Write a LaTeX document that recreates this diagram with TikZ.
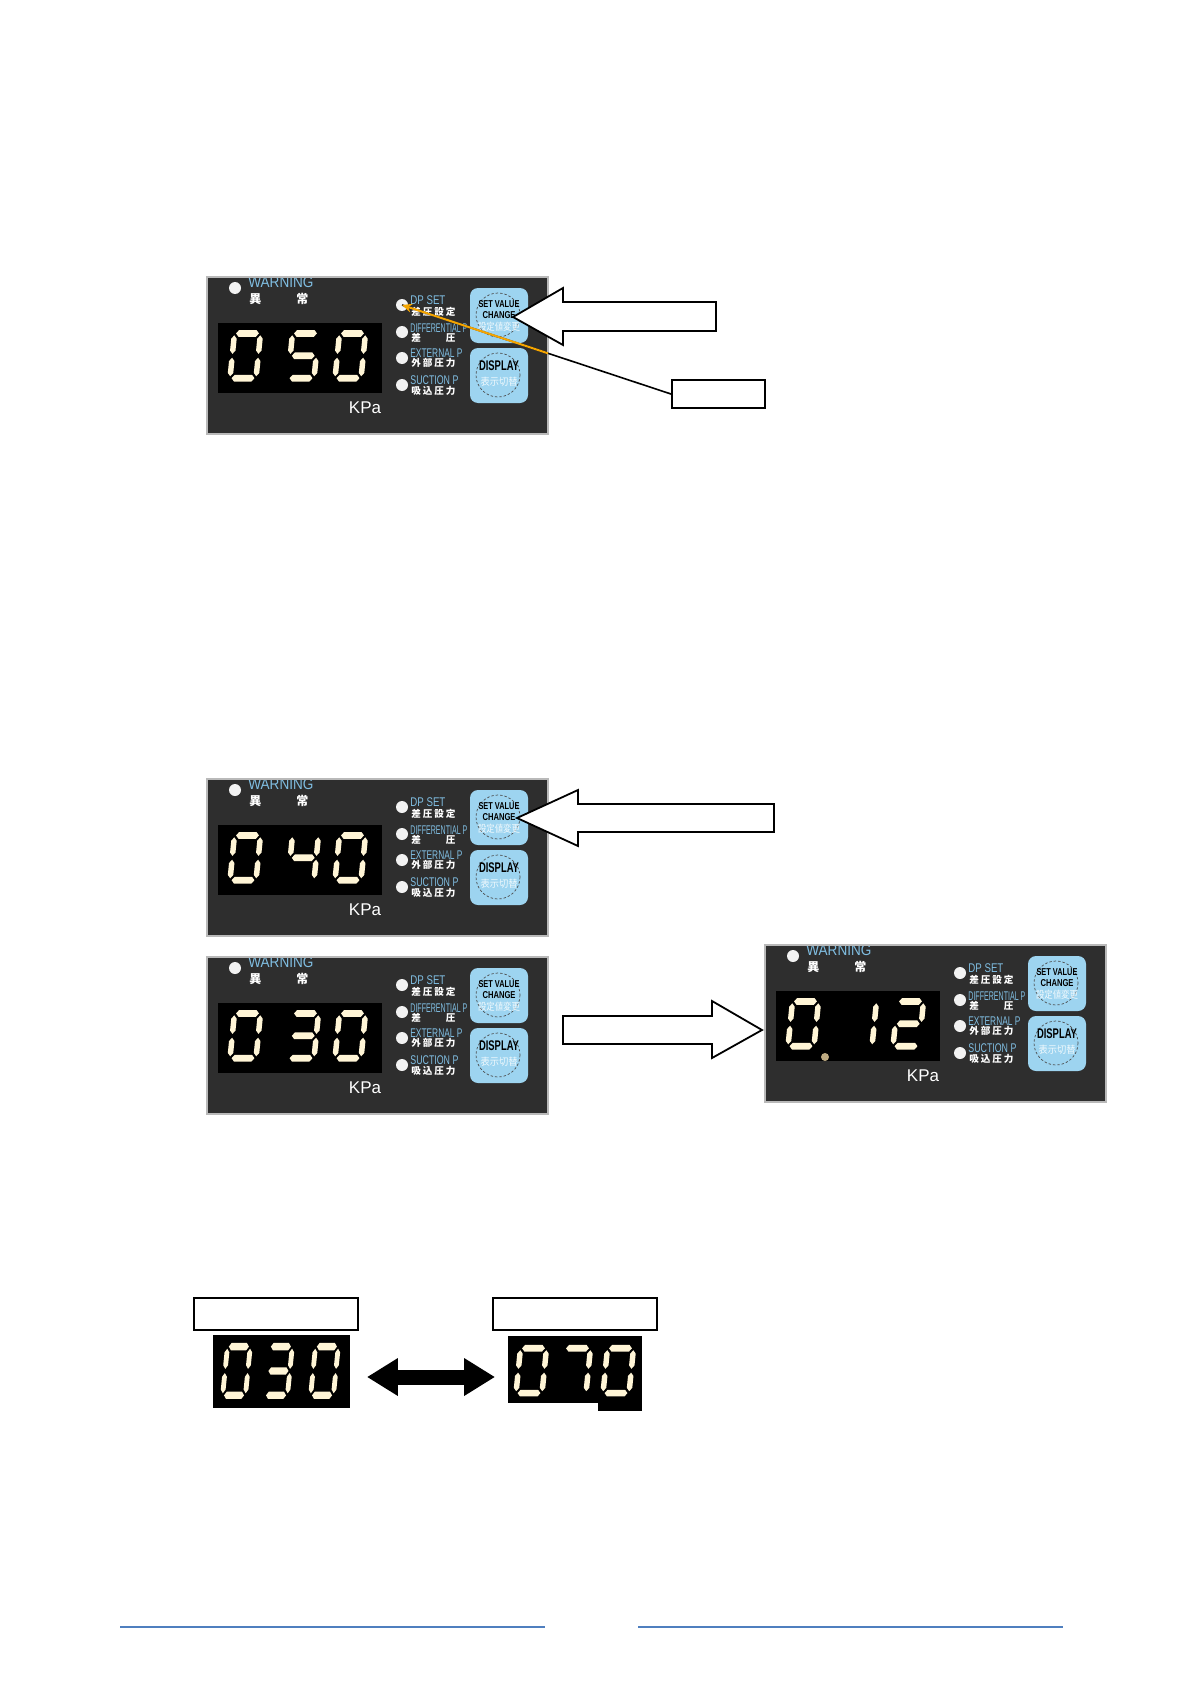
\documentclass[tikz,border=0pt]{standalone}
\usepackage{fontspec}
\setmainfont{Liberation Sans}
\newfontfamily\cjk{Noto Sans CJK JP}
\usetikzlibrary{arrows.meta}

\definecolor{panelgray}{RGB}{46,46,46}
\definecolor{rimgray}{RGB}{185,185,185}
\definecolor{lblblue}{RGB}{128,190,226}
\definecolor{btnblue}{RGB}{157,212,240}
\definecolor{segcream}{RGB}{255,245,214}
\definecolor{calloutorange}{RGB}{245,165,0}
\definecolor{footblue}{RGB}{79,127,191}
\definecolor{ledwhite}{RGB}{242,242,242}
\definecolor{dotbrown}{RGB}{190,170,130}

\newcommand\fitto[2]{\resizebox{#1}{\height}{#2}}
\newcommand\spreadbox[2]{\makebox[#1][s]{#2}}

% seven segment pieces, y runs downwards
\newcommand\dgt{1.05}
\newcommand\hseg[3]{\fill[segcream] (#2,#1) -- (#2+\dgt,#1-\dgt) -- (#3-\dgt,#1-\dgt) -- (#3,#1) -- (#3-\dgt,#1+\dgt) -- (#2+\dgt,#1+\dgt) -- cycle;}
\newcommand\vseg[3]{\fill[segcream] (#1,#2) -- (#1+\dgt,#2+\dgt) -- (#1+\dgt,#3-\dgt) -- (#1,#3) -- (#1-\dgt,#3-\dgt) -- (#1-\dgt,#2+\dgt) -- cycle;}
\newcommand\dgsega{\hseg{0}{0.6}{9.4}}
\newcommand\dgsegg{\hseg{7}{0.6}{9.4}}
\newcommand\dgsegd{\hseg{14}{0.6}{9.4}}
\newcommand\dgsegf{\vseg{0}{0.6}{6.4}}
\newcommand\dgsegb{\vseg{10}{0.6}{6.4}}
\newcommand\dgsege{\vseg{0}{7.6}{13.4}}
\newcommand\dgsegc{\vseg{10}{7.6}{13.4}}
\newcommand\dgzero{a,b,c,d,e,f}
\newcommand\dgone{b,c}
\newcommand\dgtwo{a,b,g,e,d}
\newcommand\dgthree{a,b,g,c,d}
\newcommand\dgfour{f,g,b,c}
\newcommand\dgfive{a,f,g,c,d}
\newcommand\dgseven{a,b,c}

\tikzset{
  panelrim/.style={draw=rimgray, line width=0.75pt},
  led/.style={circle, fill=ledwhite, inner sep=0pt, minimum size=6pt},
  warntxt/.style={text=lblblue, font=\fontsize{7.7}{8}\selectfont, inner sep=0pt, anchor=base west},
  lbltxt/.style={text=lblblue, font=\fontsize{6.3}{7}\selectfont, inner sep=0pt, anchor=base west},
  cjktxt/.style={text=white, font=\cjk\bfseries\fontsize{4.8}{5}\selectfont, inner sep=0pt, anchor=base west},
  btn/.style={fill=btnblue, rounded corners=4pt},
  btnring/.style={draw=black!70, dash pattern=on 1.2pt off 1pt, line width=0.35pt},
  btntxt/.style={font=\bfseries\fontsize{5}{6}\selectfont, inner sep=0pt, anchor=base},
  btncjk/.style={text=white!85!btnblue, font=\cjk\fontsize{5}{6}\selectfont, inner sep=0pt, anchor=base},
  kpatxt/.style={text=white, font=\fontsize{8.5}{9}\selectfont, inner sep=0pt, anchor=base},
  digitsz/.style={x=1.3pt, y={(-0.16pt,-1.6pt)}},
  bigdigit/.style={x=1.14pt, y={(-0.174pt,-1.74pt)}},
  blockarrow/.style={draw=black, fill=white, line width=0.9pt},
  notebox/.style={draw=black, fill=white, line width=1pt, inner sep=0pt},
  dispbox/.style={fill=black, inner sep=0pt},
  callout/.style={line width=0.8pt},
  fatarrow/.style={line width=7.5pt,
    {Triangle[length=15.25pt,width=19pt,line width=0pt]}-{Triangle[length=15.25pt,width=19pt,line width=0pt]}},
  footline/.style={draw=footblue, line width=1pt},
  pics/digit/.style 2 args={code={
    \begin{scope}[#2]
      \foreach \s in #1 {\csname dgseg\s\endcsname}
    \end{scope}
  }},
  pics/panel/.style n args={3}{code={
    \begin{scope}
      \clip (0,0) rectangle (341,157);
      \fill[panelgray] (0,0) rectangle (341,157);
      \node[led] (-warn) at (28,11) {};
      \node[warntxt] at (41,10) {\fitto{32.5pt}{WARNING}};
      \node[cjktxt, font=\cjk\bfseries\fontsize{6}{6}\selectfont] at (42,26) {\spreadbox{29.5pt}{異\hfill{}常}};
      \fill[black] (11,46) rectangle (175,116);
      \pic at (27.5,56.4) {digit={#1}{digitsz}};
      \pic at (85.5,56.4) {digit={#2}{digitsz}};
      \pic at (132.5,56.4) {digit={#3}{digitsz}};
      \node[kpatxt] at (158,136) {KPa};
      \node[led] (-dp) at (195,28) {};
      \node[led] (-diff) at (195,55) {};
      \node[led] (-ext) at (195,81) {};
      \node[led] (-suc) at (195,108) {};
      \node[lbltxt] at (203,27) {\fitto{17.5pt}{DP SET}};
      \node[cjktxt] at (204,38.5) {\spreadbox{22pt}{差\hfill{}圧\hfill{}設\hfill{}定}};
      \node[lbltxt] at (203,55) {\fitto{28.5pt}{DIFFERENTIAL P}};
      \node[cjktxt] at (204,64.5) {\spreadbox{22pt}{差\hfill{}圧}};
      \node[lbltxt] at (203,80) {\fitto{26pt}{EXTERNAL P}};
      \node[cjktxt] at (204,89.5) {\spreadbox{22pt}{外\hfill{}部\hfill{}圧\hfill{}力}};
      \node[lbltxt] at (203,107) {\fitto{24pt}{SUCTION P}};
      \node[cjktxt] at (204,117.5) {\spreadbox{22pt}{吸\hfill{}込\hfill{}圧\hfill{}力}};
      \fill[btn] (263,11) rectangle (321,66);
      \fill[btn] (263,71) rectangle (321,126);
      \draw[btnring] (291,38) circle [radius=22];
      \draw[btnring] (291,98) circle [radius=22];
      \node[btntxt] at (292,30) {\fitto{20.5pt}{SET VALUE}};
      \node[btntxt] at (292,41) {\fitto{16.5pt}{CHANGE}};
      \node[btncjk] at (292,53) {\fitto{21pt}{設定値変更}};
      \node[btntxt, font=\bfseries\fontsize{7}{8}\selectfont] at (292,93) {\fitto{20pt}{DISPLAY}};
      \node[btncjk] at (292,108) {\fitto{18.5pt}{表示切替}};
    \end{scope}
    \draw[panelrim] (0,0) rectangle (341,157);
  }}
}

\begin{document}
\begin{tikzpicture}[x=0.5pt, y=-0.5pt]
\path[use as bounding box, fill=white] (0,0) rectangle (1192,1685);

% first panel: 050, pointer to DP SET
\pic (p1) at (207,277) {panel={\dgzero}{\dgfive}{\dgzero}};
\draw[blockarrow] (513,317) -- (563,288) -- (563,302) -- (716,302) -- (716,331) -- (563,331) -- (563,345) -- cycle;
\node[notebox, minimum width=46.5pt, minimum height=14pt] (note1) at (718.5,394) {};
\draw[callout] (note1.west) -- (p1-dp.center);
\begin{scope}
  \clip (207,277) rectangle ++(341,157);
  \draw[callout, line width=1pt, calloutorange, -{Stealth[length=5pt,width=4.5pt]}] (note1.west) -- (p1-dp.center);
\end{scope}

% 040 and 030 panels
\pic (p2) at (207,779) {panel={\dgzero}{\dgfour}{\dgzero}};
\draw[blockarrow] (517,818) -- (578,790) -- (578,804) -- (774,804) -- (774,832) -- (578,832) -- (578,846) -- cycle;
\pic (p3) at (207,957) {panel={\dgzero}{\dgthree}{\dgzero}};
\draw[blockarrow] (762,1030) -- (712,1001) -- (712,1016) -- (563,1016) -- (563,1044) -- (712,1044) -- (712,1058) -- cycle;
\pic (p4) at (765,945) {panel={\dgzero}{\dgone}{\dgtwo}};
\fill[dotbrown] (825,1057) circle [radius=4];

% range 030 <-> 070
\node[notebox, minimum width=82pt, minimum height=16pt] (lowbox) at (276,1314) {};
\node[notebox, minimum width=82pt, minimum height=16pt] (highbox) at (575,1314) {};
\node[dispbox, minimum width=68.5pt, minimum height=36.5pt] (d030) at (281.5,1371.5) {};
\fill[black] (598,1336) rectangle (642,1411);
\node[dispbox, minimum width=67pt, minimum height=33.5pt] (d070) at (575,1369.5) {};
\pic at (227.5,1346.6) {digit={\dgzero}{bigdigit}};
\pic at (269.5,1346.6) {digit={\dgthree}{bigdigit}};
\pic at (315.5,1346.6) {digit={\dgzero}{bigdigit}};
\pic at (520.5,1348.3) {digit={\dgzero}{digitsz}};
\pic at (564.5,1348.3) {digit={\dgseven}{digitsz}};
\pic at (607.5,1348.3) {digit={\dgzero}{digitsz}};
\path (d030.east) ++(0,5.5) coordinate (arrl);
\path (d070.west) ++(0,7.5) coordinate (arrr);
\draw[fatarrow, shorten <=8.5pt, shorten >=6.5pt] (arrl) -- (arrr);

% footer
\draw[footline] (120,1627) -- (545,1627);
\draw[footline] (638,1627) -- (1063,1627);
\end{tikzpicture}
\end{document}
